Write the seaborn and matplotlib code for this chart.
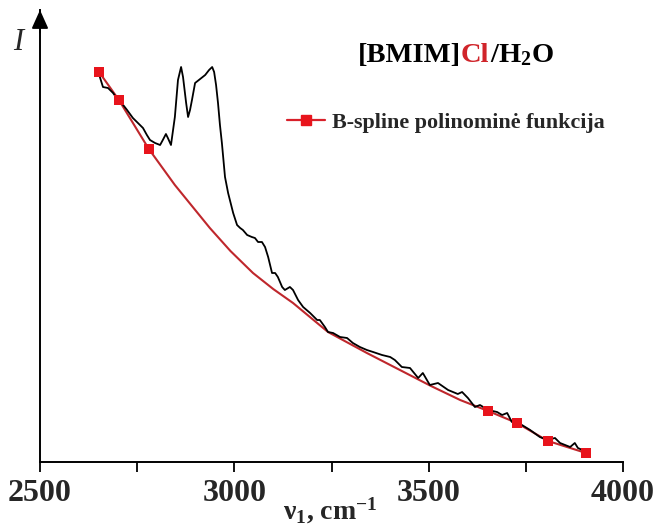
import matplotlib
matplotlib.use("Agg")
import matplotlib.pyplot as plt
import seaborn as sns
import pandas as pd
from matplotlib.lines import Line2D

# Raman spectrum of [BMIM]Cl/H2O (arbitrary intensity units)
wavenumber = [2649, 2654, 2662, 2675, 2688, 2701, 2714, 2724, 2739, 2752,
              2765, 2775, 2783, 2796, 2809, 2816, 2824, 2829, 2837, 2847,
              2855, 2863, 2868, 2876, 2881, 2886, 2891, 2899, 2912, 2925,
              2935, 2943, 2948, 2953, 2958, 2963, 2968, 2976, 2984, 2997,
              3007, 3015, 3022, 3033, 3045, 3053, 3061, 3071, 3079, 3087,
              3097, 3105, 3112, 3123, 3130, 3143, 3151, 3164, 3177, 3195,
              3213, 3220, 3233, 3241, 3254, 3272, 3290, 3305, 3323, 3341,
              3357, 3380, 3401, 3413, 3431, 3452, 3473, 3485, 3503, 3524,
              3550, 3575, 3586, 3601, 3619, 3632, 3653, 3676, 3689, 3702,
              3714, 3727, 3740, 3761, 3786, 3805, 3825, 3838, 3864, 3876,
              3884, 3907]
intensity = [390, 385, 375, 374, 369, 362, 357, 352, 344, 339,
             334, 327, 322, 319, 317, 322, 328, 324, 317, 345,
             382, 395, 385, 359, 345, 352, 362, 379, 383, 387,
             392, 395, 390, 377, 359, 337, 319, 285, 269, 249,
             237, 234, 232, 227, 225, 224, 220, 220, 215, 205,
             189, 189, 185, 175, 172, 175, 172, 162, 155, 149,
             142, 142, 135, 130, 129, 125, 124, 119, 115, 112,
             110, 107, 105, 102, 95, 94, 84, 89, 77, 79,
             72, 68, 70, 64, 55, 57, 52, 50, 47, 49,
             40, 39, 37, 32, 25, 22, 24, 19, 15, 19,
             14, 10]

# B-spline baseline
baseline_nu = [2652, 2703, 2780, 2847, 2937, 2990, 3048, 3100, 3151, 3241,
               3341, 3426, 3506, 3581, 3653, 3727, 3807, 3905]
baseline_I = [390, 362, 313, 277, 234, 211, 189, 173, 159, 130,
              109, 92, 76, 62, 51, 39, 21, 9]

# spline anchor points
anchor_nu = [2652, 2703, 2780, 3653, 3727, 3807, 3905]
anchor_I = [390, 362, 313, 51, 39, 21, 9]

xticks_major = [2500, 3000, 3500, 4000]
xticks_minor = [2750, 3250, 3750]

sns.set_style("white")
plt.rcParams["font.family"] = ["Liberation Serif", "DejaVu Serif"]
plt.rcParams["mathtext.fontset"] = "custom"
plt.rcParams["mathtext.rm"] = "Liberation Serif:bold"
plt.rcParams["mathtext.it"] = "Liberation Serif:italic:bold"
plt.rcParams["mathtext.bf"] = "Liberation Serif:bold"
plt.rcParams["mathtext.default"] = "rm"

W, H = 654, 527
fig = plt.figure(figsize=(W / 100, H / 100), dpi=100)
ax = fig.add_axes([40 / W, 1 - 462 / H, 583 / W, 452 / H])

line_red = "#bf272c"
mark_red = "#e8141c"

spectrum = pd.DataFrame({"nu": wavenumber, "I": intensity})
baseline = pd.DataFrame({"nu": baseline_nu, "I": baseline_I})
anchors = pd.DataFrame({"nu": anchor_nu, "I": anchor_I})

sns.lineplot(data=baseline, x="nu", y="I", ax=ax, color=line_red, lw=1.5,
             sort=False, estimator=None, zorder=2)
sns.lineplot(data=spectrum, x="nu", y="I", ax=ax, color="black", lw=1.3,
             sort=False, estimator=None, zorder=3)
sns.scatterplot(data=anchors, x="nu", y="I", ax=ax, marker="s", s=58,
                color=mark_red, edgecolor=mark_red, linewidth=0, zorder=5)

ax.set_xlim(2500, 4000)
ax.set_ylim(0, 452)
ax.set_xticks(xticks_major)
ax.set_xticks(xticks_minor, minor=True)
ax.set_xticklabels([str(t) for t in xticks_major], fontsize=23, fontweight="bold")
ax.set_yticks([])
ax.tick_params(axis="x", which="both", bottom=True, direction="out",
               length=7, width=1.3, color="black")
ax.tick_params(axis="x", which="major", pad=5)
ax.set_xlabel("")
ax.set_ylabel("")
for side in ("top", "right"):
    ax.spines[side].set_visible(False)
for side in ("left", "bottom"):
    ax.spines[side].set_color("black")
    ax.spines[side].set_linewidth(1.4)

# arrow head on the intensity axis
ax.annotate("", xy=(0, 1.0), xycoords="axes fraction", xytext=(0, 0.95),
            arrowprops=dict(arrowstyle="-|>,head_length=0.8,head_width=0.36",
                            color="black", lw=1.4, shrinkA=0, shrinkB=0,
                            mutation_scale=14),
            annotation_clip=False)

fig.text(18 / W, 1 - 43 / H, "I", fontstyle="italic", fontsize=22,
         ha="center", va="center")
fig.text(330 / W, 1 - 511 / H, r"$\nu_1$, cm$^{-1}$", fontsize=20,
         fontweight="bold", ha="center", va="center")

# title with the anion highlighted
renderer = fig.canvas.get_renderer()
x = 358
for part, col in [("[BMIM]", "black"), ("Cl", "#d0242a"), ("/H$_2$O", "black")]:
    t = fig.text(x / W, 1 - 62 / H, part, color=col, fontsize=20.5,
                 fontweight="bold", ha="left", va="baseline")
    x = t.get_window_extent(renderer).x1

handle = Line2D([], [], color="#d8202a", lw=1.6, marker="s", markersize=6.5,
                markerfacecolor=mark_red, markeredgecolor=mark_red)
ax.legend([handle], ["B-spline polinominė funkcija"], loc="center left",
          bbox_to_anchor=(287 / W, 1 - 123 / H), bbox_transform=fig.transFigure,
          frameon=False, borderpad=0, borderaxespad=0, handlelength=1.75,
          handletextpad=0.3,
          prop={"family": "Liberation Serif", "weight": "bold", "size": 15.8})

fig.savefig("out.png", dpi=100)
